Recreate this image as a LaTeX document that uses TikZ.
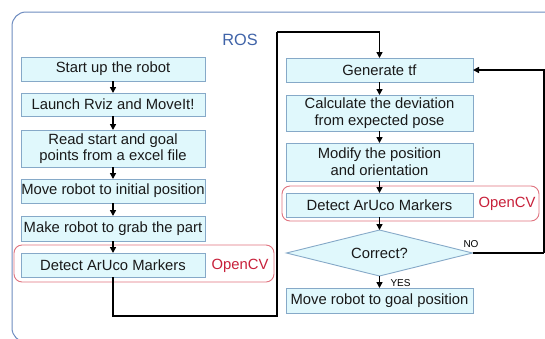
\documentclass[tikz,border=0pt]{standalone}
\usepackage{fontspec}
\setmainfont{Liberation Sans}
\usetikzlibrary{shapes.geometric,arrows.meta}
\definecolor{boxfill}{HTML}{E0F8FC}
\definecolor{boxline}{HTML}{86A9C8}
\definecolor{frameline}{HTML}{6E8CC0}
\definecolor{rostext}{HTML}{3F63A8}
\definecolor{cvline}{HTML}{E0737F}
\definecolor{cvtext}{HTML}{C8203A}
\tikzset{
  stepbox/.style={draw=boxline, fill=boxfill, line width=0.9pt, minimum width=#1,
    inner sep=0pt, outer sep=0pt, align=center, text=black!90,
    font=\fontsize{14.8}{16.6}\selectfont},
  stepbox/.default=184pt,
  decide/.style={diamond, draw=boxline, fill=boxfill, line width=0.9pt, aspect=4,
    minimum width=186pt, minimum height=46pt, inner sep=0pt, outer sep=0pt,
    text=black!90, font=\fontsize{14.8}{16.6}\selectfont},
  cvgroup/.style={draw=cvline, line width=0.9pt, rounded corners=8pt},
  cvlabel/.style={text=cvtext, font=\fontsize{14.8}{16.6}\selectfont},
  flow/.style={black, line width=1.6pt, -{Triangle[length=6pt,width=6pt]}},
  link/.style={black, line width=1.6pt},
  small/.style={font=\fontsize{10}{12}\selectfont}
}
\begin{document}
\begin{tikzpicture}[x=1pt,y=-1pt]
\useasboundingbox (0,0) rectangle (545,338);
\clip (0,0) rectangle (545,338);
\fill[white] (0,0) rectangle (545,338);
% ROS frame
\draw[frameline, line width=1pt, rounded corners=14pt] (12,12) rectangle (620,342);
\node[text=rostext, font=\fontsize{16.3}{18}\selectfont] (ros) at (240,40) {ROS};

% OpenCV groups
\draw[cvgroup] (14,245) rectangle (274,282);
\node[cvlabel] (cv1) at (240,266) {OpenCV};
\draw[cvgroup] (282,186) rectangle (539,221);
\node[cvlabel] (cv2) at (507,204) {OpenCV};

% left column
\node[stepbox, minimum height=24pt] (s1) at (113,69) {Start up the robot};
\node[stepbox, minimum height=23pt] (s2) at (113,104.5) {Launch Rviz and MoveIt!};
\node[stepbox, minimum height=37pt] (s3) at (113,148.5) {Read start and goal\\points from a excel file};
\node[stepbox, minimum height=24pt] (s4) at (113,191) {Move robot to initial position};
\node[stepbox, minimum height=25pt] (s5) at (113,228.5) {Make robot to grab the part};
\node[stepbox, minimum height=24pt] (s6) at (113,265) {Detect ArUco Markers};

% right column
\node[stepbox=187pt, minimum height=24pt] (g1) at (379.5,70) {Generate tf};
\node[stepbox=187pt, minimum height=36pt] (g2) at (379.5,113) {Calculate the deviation\\from expected pose};
\node[stepbox=187pt, minimum height=38pt] (g3) at (379.5,162) {Modify the position\\and orientation};
\node[stepbox=187pt, minimum height=24pt] (g4) at (379.5,205) {Detect ArUco Markers};
\node[decide] (q) at (379.5,253) {Correct?};
\node[stepbox=187pt, minimum height=25pt] (g5) at (379.5,300.5) {Move robot to goal position};

\node[small, anchor=south] (no) at (471,251) {NO};
\node[small, anchor=west] (yes) at (387,283) {YES};

% flow between steps
\draw[flow] (s1) -- (s2);
\draw[flow] (s2) -- (s3);
\draw[flow] (s3) -- (s4);
\draw[flow] (s4) -- (s5);
\draw[flow] (s5) -- (s6);
\draw[flow] (g1) -- (g2);
\draw[flow] (g2) -- (g3);
\draw[flow] (g3) -- (g4);
\draw[flow] (g4) -- (q);
\draw[flow] (q) -- (g5);

% hand-over from the left column to the right one
\coordinate (lowturn) at (113,316);
\coordinate (upturn) at (277,32);
\draw[link] (s6.south) -- (lowturn) -- (lowturn -| upturn) -- (upturn);
\draw[flow] (upturn) -| (g1.north);

% retry loop
\coordinate (retry) at (544,253);
\draw[link] (q.east) -- (retry);
\draw[flow] (retry) |- (g1.east);
\end{tikzpicture}
\end{document}
